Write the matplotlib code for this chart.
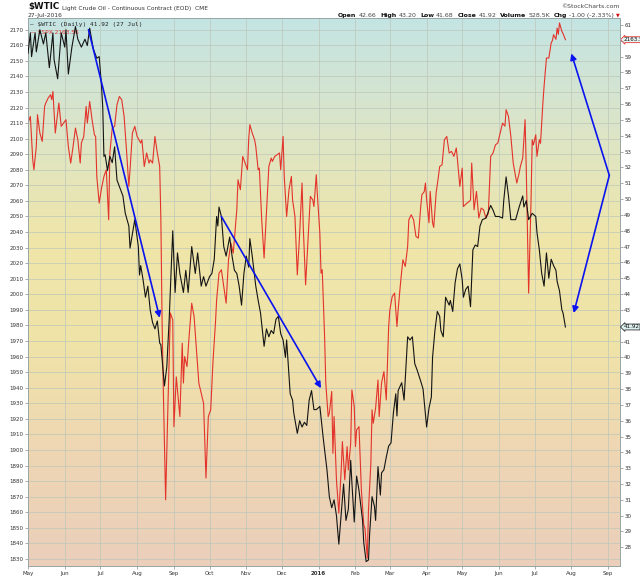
import numpy as np
import pandas as pd
import matplotlib
matplotlib.use("Agg")
import matplotlib.pyplot as plt
from matplotlib.colors import LinearSegmentedColormap

start = pd.Timestamp("2015-05-01")

# $WTIC daily close, days counted from 1 May 2015
wtic_days = [0, 2, 3, 6, 7, 10, 13, 15, 18, 21, 22, 25, 28, 31, 32, 34, 37, 40, 42, 45,
             48, 50, 52, 55, 58, 60, 62, 63, 64, 65, 67, 69, 71, 73, 75, 78, 80, 82, 85, 86,
             88, 90, 93, 94, 95, 97, 99, 101, 103, 105, 107, 109, 111, 112, 115, 117, 119, 122, 124, 126,
             128, 131, 133, 135, 138, 141, 143, 146, 148, 150, 153, 155, 157, 159, 160, 161, 163, 165, 167, 170,
             172, 174, 176, 178, 180, 182, 184, 186, 187, 189, 192, 194, 196, 199, 201, 203, 205, 207, 209, 211,
             213, 215, 217, 218, 221, 223, 224, 227, 229, 231, 233, 235, 237, 239, 241, 243, 246, 249, 251, 252,
             254, 256, 258, 260, 262, 265, 266, 268, 270, 272, 273, 275, 277, 279, 282, 283, 285, 287, 288, 290,
             292, 293, 295, 297, 298, 300, 302, 304, 306, 308, 310, 311, 312, 315, 317, 318, 320, 322, 324, 326,
             328, 331, 333, 336, 338, 340, 341, 343, 345, 347, 348, 350, 352, 355, 356, 358, 360, 362, 364, 366,
             367, 369, 371, 373, 375, 377, 379, 381, 383, 386, 390, 392, 394, 397, 400, 401, 403, 405, 407, 411,
             414, 417, 418, 420, 422, 425, 428, 429, 431, 433, 434, 435, 437, 439, 441, 443, 445, 446, 448, 450,
             451, 453]
wtic_vals = [59.2, 60.5, 59.0, 60.5, 59.3, 60.7, 59.8, 60.5, 58.3, 60.5, 58.8, 57.6, 60.5, 59.6, 60.7, 57.9, 59.6, 60.9, 60.1, 59.6,
             60.1, 59.7, 60.8, 59.5, 58.9, 59.0, 57.1, 55.8, 52.7, 52.8, 51.8, 52.7, 52.3, 53.3, 51.2, 50.6, 50.2, 49.1, 48.3, 46.9,
             47.8, 48.7, 47.0, 45.2, 45.8, 44.9, 43.8, 44.5, 43.0, 42.2, 41.8, 42.3, 40.9, 40.8, 38.2, 39.4, 42.4, 48.0, 44.1, 46.6,
             45.3, 44.1, 45.5, 44.1, 47.0, 45.3, 46.6, 44.5, 45.1, 44.5, 45.1, 45.3, 46.2, 48.9, 48.3, 49.5, 48.9, 47.0, 46.4, 47.6,
             46.4, 45.5, 45.3, 44.5, 43.3, 45.3, 46.4, 45.7, 47.5, 46.4, 44.5, 43.6, 42.8, 40.7, 41.8, 41.3, 41.7, 41.5, 42.4, 42.6,
             41.5, 41.1, 40.0, 41.1, 37.7, 37.3, 36.5, 35.2, 36.0, 35.6, 35.9, 35.7, 37.3, 37.9, 36.7, 36.7, 36.9, 34.8, 33.5, 32.9,
             31.2, 30.5, 31.0, 30.0, 28.2, 31.0, 32.0, 29.7, 30.4, 33.5, 32.1, 29.6, 32.5, 31.6, 29.7, 28.3, 27.1, 27.2, 28.9, 31.2,
             30.6, 29.7, 33.1, 31.3, 32.7, 32.9, 33.7, 34.4, 34.6, 36.5, 37.7, 36.3, 37.9, 38.4, 37.3, 38.6, 41.3, 41.1, 41.3, 39.6,
             39.2, 38.5, 38.0, 35.6, 36.8, 37.5, 40.0, 41.7, 42.9, 42.6, 41.7, 41.3, 43.8, 43.3, 43.6, 42.9, 44.7, 45.6, 45.9, 44.9,
             43.8, 44.3, 44.5, 43.2, 46.8, 47.1, 47.0, 48.3, 48.7, 48.8, 49.6, 49.3, 48.9, 48.9, 48.8, 49.9, 51.4, 50.2, 48.7, 48.7,
             49.5, 50.2, 49.5, 49.9, 48.7, 49.1, 48.9, 47.9, 46.8, 45.3, 44.9, 44.5, 46.6, 45.0, 46.2, 45.8, 45.5, 44.8, 44.2, 43.0,
             42.8, 41.92]

# $SPX daily close, days counted from 1 May 2015
spx_days = [0, 2, 4, 5, 7, 8, 10, 12, 14, 15, 17, 19, 20, 21, 23, 26, 28, 30, 32, 34,
            36, 38, 40, 42, 44, 45, 47, 49, 50, 52, 54, 56, 57, 58, 60, 62, 64, 66, 68, 69,
            71, 73, 75, 77, 79, 81, 83, 85, 86, 88, 90, 92, 95, 96, 98, 100, 102, 103, 105, 107,
            109, 111, 112, 113, 114, 116, 118, 120, 122, 123, 125, 128, 130, 131, 132, 134, 136, 138, 140, 142,
            144, 146, 148, 150, 152, 154, 156, 158, 159, 161, 163, 165, 167, 169, 171, 173, 176, 177, 179, 181,
            183, 185, 186, 187, 189, 191, 192, 194, 195, 197, 199, 201, 203, 205, 206, 208, 210, 212, 213, 215,
            216, 218, 220, 222, 223, 225, 227, 229, 231, 232, 234, 236, 238, 240, 241, 243, 244, 246, 247, 248,
            250, 251, 253, 254, 256, 257, 258, 260, 262, 264, 265, 267, 269, 270, 272, 273, 275, 276, 277, 279,
            281, 283, 284, 286, 287, 289, 290, 291, 293, 295, 296, 298, 300, 302, 304, 305, 307, 309, 311, 312,
            314, 316, 318, 320, 321, 323, 325, 327, 329, 331, 332, 334, 335, 336, 338, 339, 341, 342, 344, 346,
            347, 349, 351, 353, 355, 357, 359, 361, 362, 364, 366, 367, 370, 372, 373, 374, 376, 378, 380, 382,
            384, 386, 388, 390, 392, 394, 396, 398, 400, 402, 403, 405, 407, 409, 411, 412, 414, 415, 417, 419,
            420, 421, 422, 424, 425, 426, 428, 429, 431, 432, 434, 435, 437, 439, 441, 442, 443, 445, 446, 447,
            448, 450, 451, 453]
spx_vals = [2110.0, 2114.3, 2086.4, 2080.0, 2095.0, 2115.4, 2103.6, 2098.2, 2120.7, 2122.9, 2126.1, 2128.2, 2125.0, 2130.3, 2103.6, 2122.9, 2107.9, 2110.0, 2112.2, 2095.0,
            2084.3, 2095.0, 2106.8, 2099.3, 2084.3, 2097.2, 2101.4, 2120.7, 2110.0, 2123.9, 2112.2, 2102.5, 2101.4, 2075.7, 2058.6, 2068.3, 2075.7, 2080.0, 2047.9, 2090.8,
            2106.8, 2107.9, 2121.8, 2127.1, 2125.0, 2114.3, 2092.9, 2069.3, 2080.0, 2103.6, 2107.9, 2101.4, 2097.2, 2099.3, 2082.1, 2090.8, 2084.3, 2086.4, 2084.3, 2101.4,
            2090.8, 2082.1, 2047.9, 1983.6, 1940.8, 1868.0, 1930.0, 1988.0, 1983.6, 1915.0, 1947.0, 1921.5, 1968.6, 1943.0, 1960.0, 1953.6, 1975.0, 1994.3, 1985.7, 1964.3,
            1943.0, 1936.5, 1930.0, 1882.0, 1921.5, 1925.8, 1957.9, 1981.5, 1996.5, 2013.6, 2015.8, 2005.0, 1994.3, 2022.2, 2032.9, 2026.5, 2054.3, 2073.6, 2067.2, 2088.6,
            2084.3, 2080.0, 2099.3, 2109.0, 2103.6, 2099.3, 2095.0, 2080.0, 2081.1, 2047.9, 2023.3, 2052.2, 2082.1, 2087.5, 2085.4, 2088.6, 2089.7, 2090.8, 2080.0, 2101.4,
            2075.7, 2050.0, 2067.2, 2075.7, 2060.7, 2050.0, 2012.5, 2039.3, 2071.5, 2043.6, 2006.1, 2035.0, 2062.9, 2060.7, 2056.4, 2076.8, 2062.9, 2039.3, 2013.6, 2015.8,
            1972.9, 1943.0, 1921.5, 1923.7, 1937.6, 1897.9, 1921.5, 1880.8, 1859.4, 1887.2, 1905.4, 1880.8, 1902.2, 1887.2, 1904.4, 1938.6, 1927.9, 1902.2, 1912.9, 1915.0,
            1874.4, 1851.9, 1849.8, 1830.5, 1861.5, 1891.5, 1925.8, 1917.2, 1926.9, 1945.0, 1921.5, 1943.0, 1950.4, 1932.2, 1979.3, 1990.0, 1998.6, 2000.8, 1979.3, 1990.0,
            2007.2, 2022.2, 2017.9, 2030.7, 2047.9, 2051.1, 2047.9, 2037.2, 2036.1, 2056.0, 2064.0, 2066.0, 2071.5, 2061.0, 2046.0, 2066.1, 2046.0, 2043.0, 2065.0, 2076.0,
            2082.1, 2083.2, 2099.3, 2101.4, 2090.8, 2091.8, 2088.6, 2094.0, 2086.4, 2069.3, 2081.1, 2056.4, 2058.6, 2059.7, 2060.7, 2084.3, 2054.3, 2066.1, 2049.0, 2055.4,
            2054.3, 2049.0, 2052.0, 2088.6, 2090.8, 2096.0, 2097.2, 2103.6, 2110.0, 2108.0, 2118.6, 2114.3, 2101.4, 2084.3, 2075.7, 2071.5, 2077.9, 2082.1, 2087.5, 2112.2,
            2080.0, 2040.0, 2000.8, 2060.0, 2099.3, 2096.0, 2102.5, 2088.6, 2099.3, 2097.0, 2122.9, 2133.6, 2151.8, 2151.8, 2161.5, 2163.0, 2166.8, 2163.8, 2171.0, 2167.0,
            2174.3, 2168.9, 2167.5, 2163.56]

month_ticks = pd.date_range("2015-05-01", "2016-09-01", freq="MS")
month_labels = ["May", "Jun", "Jul", "Aug", "Sep", "Oct", "Nov", "Dec", "2016",
                "Feb", "Mar", "Apr", "May", "Jun", "Jul", "Aug", "Sep"]

# hand drawn trend arrows on the oil scale: (start date, start value, end date, end value)
arrows = [("2015-06-21", 60.7, "2015-08-20", 42.5),
          ("2015-10-11", 48.9, "2016-01-03", 38.05),
          ("2016-09-02", 51.5, "2016-08-01", 59.2),
          ("2016-09-02", 51.5, "2016-08-03", 42.8)]

wtic_dates = start + pd.to_timedelta(wtic_days, unit="D")
spx_dates = start + pd.to_timedelta(spx_days, unit="D")

fig = plt.figure(figsize=(6.4, 5.76), dpi=100)
fig.patch.set_facecolor("white")
ax = fig.add_axes([28/640, 1-566/576, 592/640, 548/576])

bg = LinearSegmentedColormap.from_list(
    "bg", ["#c4e4e4", "#dce5c8", "#efe6aa", "#f0e3a8", "#eed6b4", "#ebcfbb"])
grad = np.linspace(0, 1, 256).reshape(-1, 1)
ax.imshow(grad, cmap=bg, aspect="auto", extent=(0, 1, 0, 1),
          transform=ax.transAxes, zorder=0, interpolation="bilinear")

ax.plot(spx_dates, spx_vals, color="#e3332b", lw=0.8, zorder=3)
ax.set_xlim(start, pd.Timestamp("2016-09-11"))
ax.set_ylim(1825.5, 2177.5)
ax.set_yticks(range(1830, 2171, 10))
ax.set_xticks(month_ticks)
ax.set_xticklabels(month_labels)
ax.grid(True, color="#bdc7b9", lw=0.5, zorder=1)
ax.set_axisbelow(False)
for lab in ax.get_xticklabels():
    if lab.get_text() == "2016":
        lab.set_fontweight("bold")

ax2 = ax.twinx()
ax2.plot(wtic_dates, wtic_vals, color="#141414", lw=0.8, zorder=4)
ax2.set_ylim(26.82, 61.44)
oil_ticks = list(range(28, 62))
ax2.set_yticks(oil_ticks)
# the last value tags sit on top of the 60 and 42 labels
ax2.set_yticklabels(["" if v in (42, 60) else str(v) for v in oil_ticks])

for a in (ax, ax2):
    a.tick_params(labelsize=4, length=2, width=0.5, color="#888888",
                  labelcolor="#333333", pad=1)
    for sp in a.spines.values():
        sp.set_color("#9aa7a7")
        sp.set_linewidth(0.7)
ax.tick_params(axis="x", pad=1.5)

for d0, v0, d1, v1 in arrows:
    ax2.annotate("", xy=(pd.Timestamp(d1), v1), xytext=(pd.Timestamp(d0), v0),
                 arrowprops=dict(arrowstyle="-|>", color="#0a14f0", lw=1.2,
                                 mutation_scale=9, shrinkA=0, shrinkB=0),
                 annotation_clip=False, zorder=5)

# legend
ax.text(0.004, 0.992, "\u2014 $WTIC (Daily) 41.92 (27 Jul)", transform=ax.transAxes,
        fontsize=4.4, family="DejaVu Sans Mono", color="#222222", va="top", zorder=6)
ax.text(0.004, 0.978, "\u2014 $SPX 2163.56", transform=ax.transAxes,
        fontsize=4.2, color="#e3332b", va="top", zorder=6)

# last value tags at the right edge
ax.annotate("2163.5", xy=(1.006, 2163.56), xycoords=("axes fraction", "data"),
            fontsize=4.1, va="center", ha="left", color="#111111",
            bbox=dict(boxstyle="larrow,pad=0.08", fc="#e6f3f2", ec="#e3332b", lw=0.6),
            annotation_clip=False, zorder=7)
ax2.annotate("41.92", xy=(1.006, 41.92), xycoords=("axes fraction", "data"),
             fontsize=4.1, va="center", ha="left", color="#111111",
             bbox=dict(boxstyle="larrow,pad=0.08", fc="#dff0f0", ec="#333333", lw=0.6),
             annotation_clip=False, zorder=7)

# header
t = fig.text(28/640, 1-9/576, "$WTIC", fontsize=6.3, fontweight="bold", color="#111111", va="baseline")
ax.annotate("Light Crude Oil - Continuous Contract (EOD)  CME", xy=(1, 0), xycoords=t,
            xytext=(2, 0), textcoords="offset points", fontsize=4.2, color="#333333",
            va="bottom", annotation_clip=False)
fig.text(28/640, 1-17/576, "27-Jul-2016", fontsize=4.3, color="#333333", va="baseline")
fig.text(620/640, 1-8/576, "\u00a9StockCharts.com", fontsize=4.4, color="#444444",
         ha="right", va="baseline")

pieces = [("Open", True), ("42.66", False), ("High", True), ("43.20", False),
          ("Low", True), ("41.68", False), ("Close", True), ("41.92", False),
          ("Volume", True), ("528.5K", False), ("Chg", True), ("-1.00 (-2.33%)", False)]
prev = fig.text(338/640, 1-17/576, pieces[0][0], fontsize=4.5, fontweight="bold",
                color="#111111", va="baseline")
for s, b in pieces[1:]:
    gap = 1.6 if not b else 2.6
    prev = ax.annotate(s, xy=(1, 0), xycoords=prev, xytext=(gap, 0), textcoords="offset points",
                       fontsize=4.5, fontweight="bold" if b else "normal",
                       color="#111111" if b else "#444444", va="bottom",
                       annotation_clip=False)
ax.annotate("\u25bc", xy=(1, 0), xycoords=prev, xytext=(1.5, 0.3), textcoords="offset points",
            fontsize=3.5, color="#cc1111", va="bottom", annotation_clip=False)

fig.savefig("out.png", dpi=100)
